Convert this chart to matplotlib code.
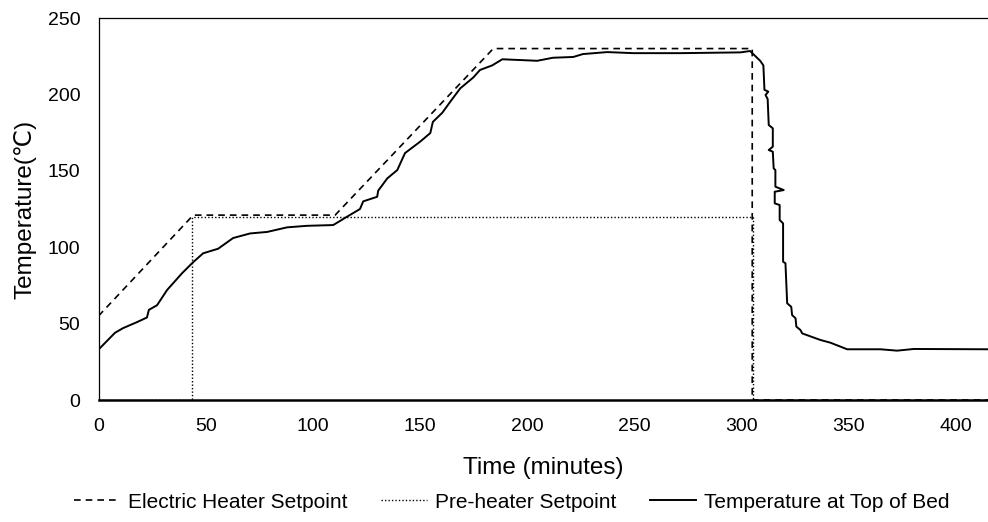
import matplotlib
matplotlib.use("Agg")
import matplotlib.pyplot as plt

plt.rcParams['font.family'] = ['Liberation Sans', 'DejaVu Sans']

# electric heater setpoint (dashed)
heater_t = [0, 44.2, 110.4, 184.2, 305, 305, 415]
heater_T = [55, 121, 121, 230, 230, 0, 0]

# pre-heater setpoint (dotted)
pre_t = [0, 43.7, 43.7, 305.4, 305.4, 415]
pre_T = [0, 0, 120, 120, 0, 0]

# measured temperature at top of bed
bed_t = [0, 7.7, 11.4, 18, 22.6, 23.5, 27.3, 32, 39, 44,
         48.8, 55.8, 62.8, 70.7, 78.7, 88, 97.3, 109.5, 116, 122,
         123.5, 130, 130.5, 134.7, 139.4, 143, 150, 154.8, 156, 160.4,
         164, 168.8, 174.8, 178, 183.7, 188.4, 204.7, 212, 221.5, 226,
         237.4, 249.5, 271.5, 299.5, 304, 308.7, 310.2, 310.7, 312.5, 311.2,
         312.2, 312.7, 314.6, 314.6, 312.7, 314.6, 315, 315.8, 315.8, 319.7,
         315.5, 315.5, 317.8, 317.8, 319.4, 319.4, 320.5, 321.3, 323.2, 323.6,
         325.2, 325.6, 327.5, 328.3, 336.8, 341.5, 349.3, 364.8, 372.6, 380.4,
         415]
bed_T = [33, 44, 47, 51, 54, 59, 62, 72, 83, 90,
         96, 99, 106, 109, 110, 113, 114, 114.5, 120, 125,
         130, 133, 137, 145, 150.5, 161.6, 169, 174.7, 182, 188,
         195, 204, 211, 216, 219, 223, 222, 224, 224.5, 226.4,
         227.7, 227, 227, 227.5, 228.4, 222, 219, 203, 201.8, 199.6,
         197, 180, 177.8, 165.8, 163.6, 162.5, 151.6, 150.5, 139.6, 137.4,
         136.3, 128.7, 127.6, 117.8, 115.6, 90.5, 89.5, 63.3, 61, 55.6,
         53.5, 48, 45.8, 43.6, 39.3, 37.5, 33.2, 33.2, 32.3, 33.4,
         33.2]

fig = plt.figure(figsize=(9.88, 5.22), dpi=100)
ax = fig.add_axes([0.0997, 0.2337, 0.9003, 0.7318])

ax.plot(heater_t, heater_T, color='black', lw=1.2, dashes=(4, 3),
        label='Electric Heater Setpoint')
ax.plot(pre_t, pre_T, color='black', lw=1.0, dashes=(1, 1.5),
        label='Pre-heater Setpoint')
ax.plot(bed_t, bed_T, color='black', lw=1.4,
        label='Temperature at Top of Bed')

ax.set_xlim(0, 415)
ax.set_ylim(0, 250)
ax.set_xticks(range(0, 401, 50))
ax.set_yticks(range(0, 251, 50))
ax.tick_params(length=0, labelsize=14, pad=13)
ax.spines['right'].set_visible(False)
ax.spines['top'].set_linewidth(0.9)
ax.spines['left'].set_linewidth(0.9)
ax.spines['bottom'].set_linewidth(1.8)

ax.set_xlabel('Time (minutes)', fontsize=17.5, labelpad=15.5)
ax.set_ylabel('Temperature(℃)', fontsize=17.5, labelpad=8)

fig.legend(loc='center', bbox_to_anchor=(0.518, 0.038), ncol=3,
           frameon=False, fontsize=15, handlelength=2.2, columnspacing=1.6,
           handletextpad=0.4)

fig.savefig('out.png', dpi=100)
